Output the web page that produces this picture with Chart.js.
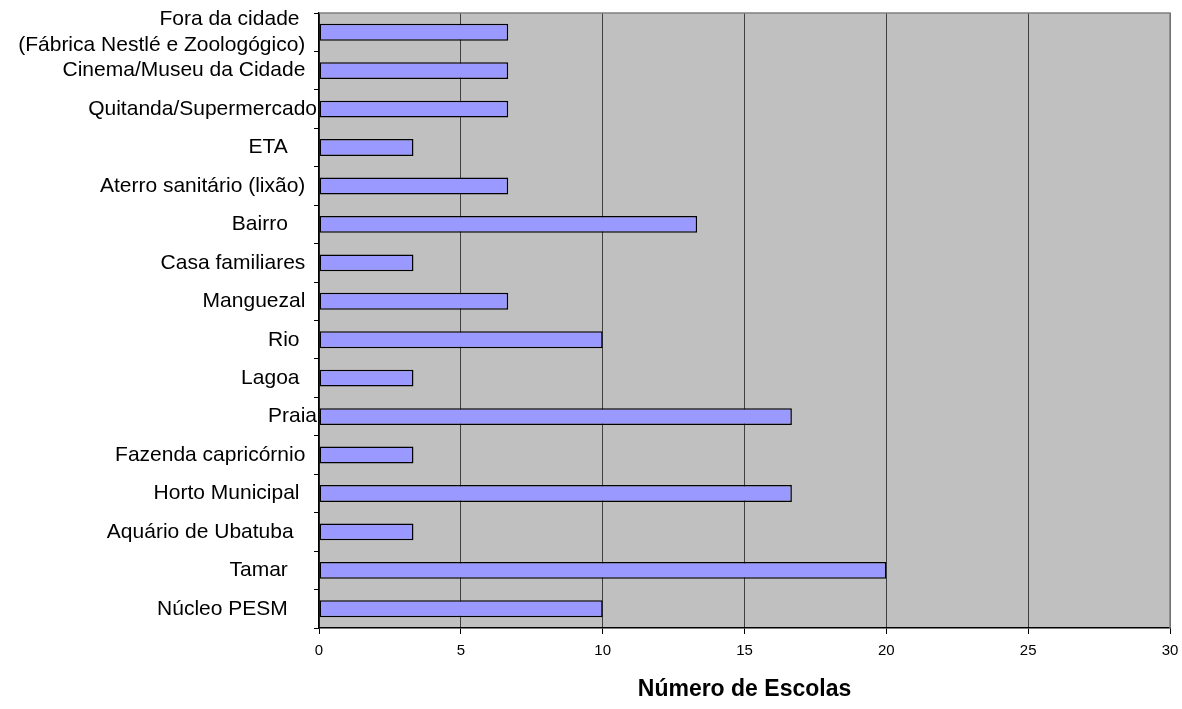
<!DOCTYPE html>
<html lang="pt">
<head>
    <meta charset="UTF-8">
    <title>Número de Escolas</title>
    <script src="https://cdn.jsdelivr.net/npm/chart.js"></script>
    <style>
        html, body {
            margin: 0;
            padding: 0;
            background: #ffffff;
        }
        #wrap {
            width: 1182px;
            height: 709px;
        }
    </style>
</head>
<body>
    <div id="wrap">
        <canvas id="chart" width="1182" height="709"></canvas>
    </div>

    <script>
        // Locais visitados (de cima para baixo, como no gráfico)
        const locais = [
            ['Fora da cidade   ', '(Fábrica Nestlé e Zoologógico)  '],
            'Cinema/Museu da Cidade  ',
            'Quitanda/Supermercado',
            'ETA     ',
            'Aterro sanitário (lixão)  ',
            'Bairro     ',
            'Casa familiares  ',
            'Manguezal  ',
            'Rio   ',
            'Lagoa   ',
            'Praia',
            'Fazenda capricórnio  ',
            'Horto Municipal   ',
            'Aquário de Ubatuba    ',
            'Tamar     ',
            'Núcleo PESM     '
        ];

        // Número de escolas por local
        const escolas = [6.67, 6.67, 6.67, 3.33, 6.67, 13.33, 3.33, 6.67, 10, 3.33, 16.67, 3.33, 16.67, 3.33, 20, 10];

        // Eixo X
        const xMin = 0;
        const xMax = 30;
        const xPasso = 5;

        const fonte = '"Liberation Sans", Arial, sans-serif';

        // fundo cinza da área do gráfico + borda
        const fundoPlot = {
            id: 'fundoPlot',
            beforeDraw(chart) {
                const { ctx, chartArea: a } = chart;
                ctx.save();
                ctx.fillStyle = '#c0c0c0';
                ctx.fillRect(a.left, a.top, a.right - a.left, a.bottom - a.top);
                ctx.restore();
            },
            afterDatasetsDraw(chart) {
                const { ctx, chartArea: a } = chart;
                ctx.save();
                ctx.strokeStyle = '#808080';
                ctx.lineWidth = 1.5;
                ctx.beginPath();
                ctx.moveTo(a.left, a.top);
                ctx.lineTo(a.right, a.top);
                ctx.lineTo(a.right, a.bottom);
                ctx.stroke();
                ctx.restore();
            }
        };

        new Chart(document.getElementById('chart'), {
            type: 'bar',
            data: {
                labels: locais,
                datasets: [{
                    label: 'Número de Escolas',
                    data: escolas,
                    backgroundColor: '#9999ff',
                    borderColor: '#000000',
                    borderWidth: 1.5,
                    borderSkipped: false,
                    categoryPercentage: 1,
                    barPercentage: 0.44
                }]
            },
            options: {
                indexAxis: 'y',
                responsive: false,
                animation: false,
                devicePixelRatio: 1,
                layout: {
                    padding: { left: 0, right: 12, top: 13, bottom: 0 }
                },
                plugins: {
                    legend: { display: false },
                    tooltip: { enabled: false }
                },
                scales: {
                    x: {
                        min: xMin,
                        max: xMax,
                        afterFit(scale) {
                            scale.height = 81;
                            scale.paddingLeft = 0;
                            scale.paddingRight = 0;
                        },
                        ticks: {
                            stepSize: xPasso,
                            color: '#000',
                            padding: 8,
                            font: { family: fonte, size: 15 }
                        },
                        grid: {
                            color: '#404040',
                            lineWidth: 1,
                            tickLength: 6,
                            tickColor: '#000'
                        },
                        border: { color: '#000', width: 1.5 },
                        title: {
                            display: true,
                            text: 'Número de Escolas',
                            color: '#000',
                            font: { family: fonte, size: 23, weight: 'bold' },
                            padding: { top: 0, bottom: 6 }
                        }
                    },
                    y: {
                        afterFit(scale) {
                            scale.width = 319;
                            scale.paddingTop = 0;
                            scale.paddingBottom = 0;
                        },
                        ticks: {
                            color: '#000',
                            padding: -3,
                            autoSkip: false,
                            font: { family: fonte, size: 21, lineHeight: 1.2 }
                        },
                        grid: {
                            drawOnChartArea: false,
                            offset: true,
                            tickLength: 5,
                            color: '#000'
                        },
                        border: { color: '#000', width: 1.5 }
                    }
                }
            },
            plugins: [fundoPlot]
        });
    </script>
</body>
</html>
